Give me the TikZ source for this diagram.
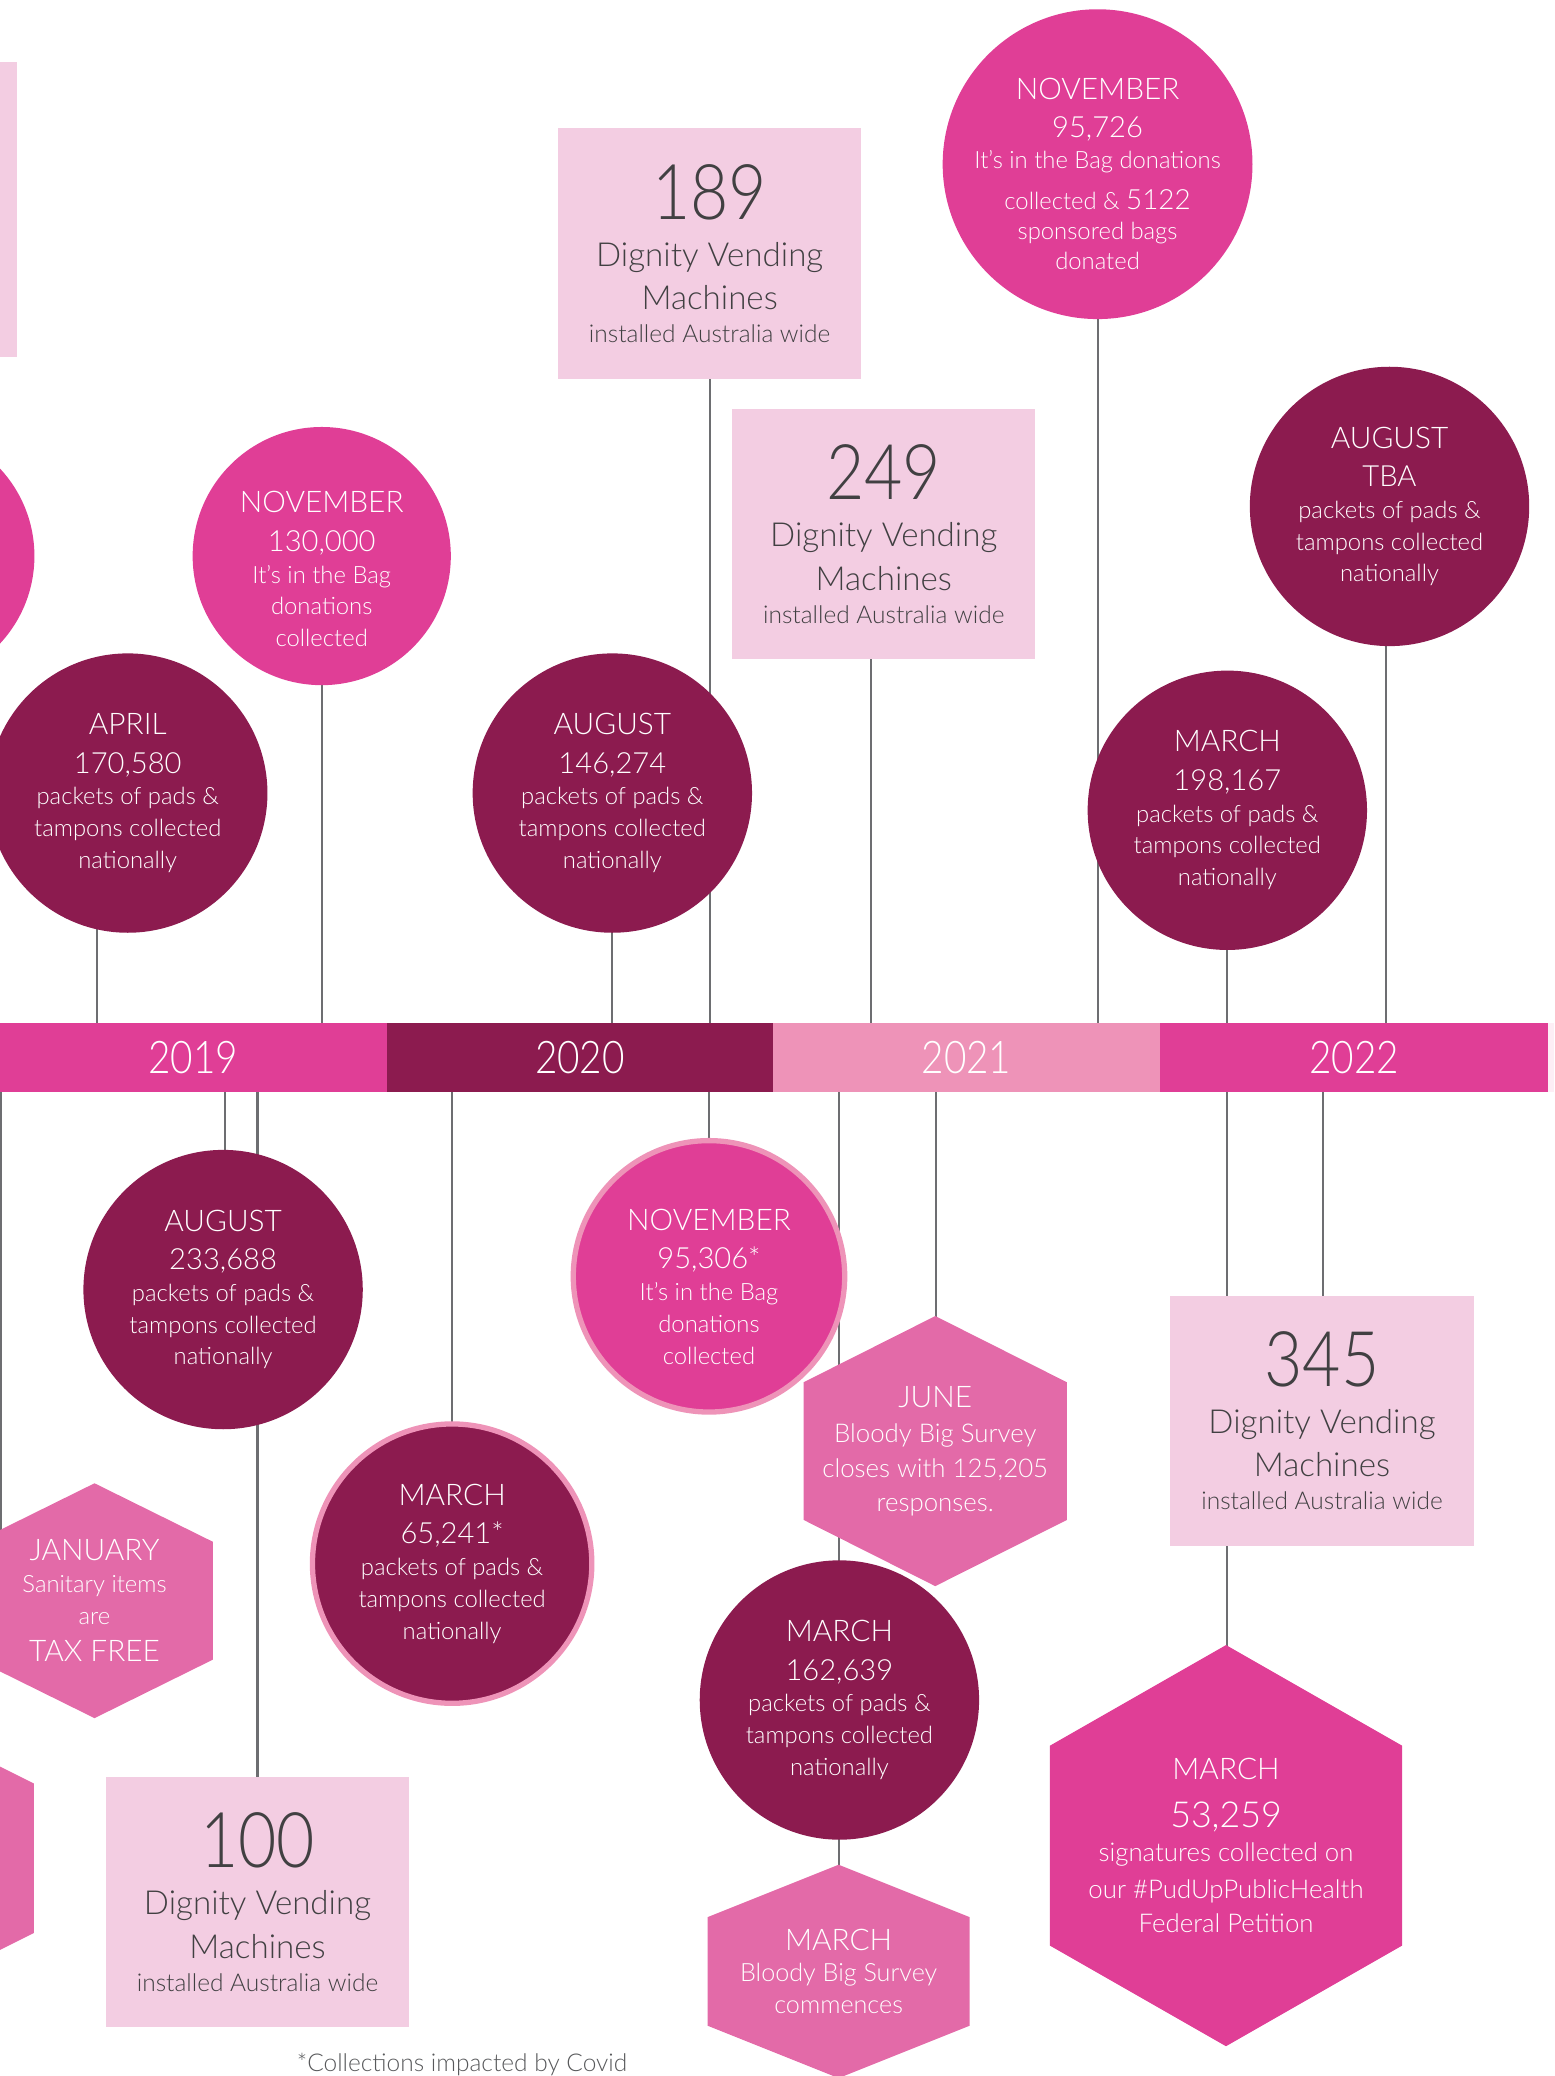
\documentclass[tikz,border=0pt]{standalone}
\usepackage{fontspec}
\setmainfont{Lato}[UprightFont=* Light]
\newfontfamily\bignum{Lato}[UprightFont=* Light, FakeStretch=0.86]
\definecolor{mag}{HTML}{E03E96}
\definecolor{dark}{HTML}{8C1B4F}
\definecolor{lpink}{HTML}{EE93B8}
\definecolor{hexp}{HTML}{E36AA8}
\definecolor{pale}{HTML}{F3CDE2}
\definecolor{txtg}{HTML}{414042}
\definecolor{lineg}{HTML}{6D6E71}
\definecolor{footg}{HTML}{58595B}
\definecolor{fade}{HTML}{FDEEF5}
\pgfdeclarelayer{bg}
\pgfsetlayers{bg,main}
\tikzset{
  base/.style={inner sep=0pt, outer sep=0pt, align=center, text=white, font=\fontsize{18}{24}\selectfont},
  circ/.style={base, circle, minimum size=211pt, inner sep=-40pt},
  dkc/.style={circ, fill=dark},
  mgc/.style={circ, fill=mag},
  vbox/.style={base, rectangle, fill=pale, text=txtg, minimum width=229pt, minimum height=189pt, font=\fontsize{18.5}{25}\selectfont},
  hext/.style={base, font=\fontsize{19.5}{26}\selectfont},
  yr/.style={base, rectangle, minimum width=292pt, minimum height=52pt, font=\bignum\fontsize{34}{34}\selectfont},
  conn/.style={draw=lineg, line width=1.6pt},
  foot/.style={inner sep=0pt, text=footg, font=\fontsize{18.5}{20}\selectfont, anchor=base}
}
\newcommand\mon[1]{{\fontsize{22.5}{24}\selectfont #1}}
\newcommand\cnum[1]{{\fontsize{22}{24}\selectfont #1}}
\newcommand\bnum[1]{{\bignum\fontsize{58}{58}\selectfont #1}}
\newcommand\dvl[1]{{\fontsize{25}{25}\selectfont #1}}
\newcommand\myhex[5]{\fill[#5, shift={(#1)}] (0,-#4) -- (#2,-#3) -- (#2,#3) -- (0,#4) -- (-#2,#3) -- (-#2,-#3) -- cycle;}
\begin{document}
\begin{tikzpicture}[x=1pt,y=-1pt]
\useasboundingbox (0,0) rectangle (1174,1568);
\clip (0,0) rectangle (1174,1568);

% ---------- timeline bar ----------
\node[yr, fill=mag] (y19) at (146,799) {2019};
\node[yr, fill=dark] (y20) at (438,799) {2020};
\node[yr, fill=lpink] (y21) at (730,799) {2021};
\node[yr, fill=mag, minimum width=293.5pt] (y22) at (1022.75,799) {2022};
\fill[fade] (1169.5,773) rectangle (1174,825);

% ---------- above the bar ----------
\fill[pale] (0,47) rectangle (13,270);
\node[mgc, minimum size=194pt] (lcirc) at (-71,420) {};
\node[mgc, minimum size=195pt] (nov19) at (243,420)
  {\rule{0pt}{36pt}\mon{NOVEMBER}\\[5pt]\cnum{130,000}\\It’s in the Bag\\donations\\collected};
\node[dkc] (apr19) at (96.5,599)
  {\mon{APRIL}\\[5pt]\cnum{170,580}\\packets of pads \&\\tampons collected\\nationally};
\node[dkc] (aug20) at (462.5,599)
  {\mon{AUGUST}\\[5pt]\cnum{146,274}\\packets of pads \&\\tampons collected\\nationally};
\node[vbox] (b189) at (536,191.5)
  {\bnum{189}\\[10.5pt]\dvl{Dignity Vending}\\[8pt]\dvl{Machines}\\installed Australia wide};
\node[vbox] (b249) at (667.5,403.5)
  {\bnum{249}\\[10.5pt]\dvl{Dignity Vending}\\[8pt]\dvl{Machines}\\installed Australia wide};
\node[mgc, minimum size=234pt, font=\fontsize{18}{23}\selectfont] (nov21) at (829,124)
  {\rule{0pt}{31pt}\mon{NOVEMBER}\\[6pt]\cnum{95,726}\\It’s in the Bag donations\\[8pt]collected \& {\fontsize{21}{21}\selectfont 5122}\\sponsored bags\\donated};
\node[dkc] (aug22) at (1049.5,382.5)
  {\mon{AUGUST}\\[5pt]\cnum{TBA}\\packets of pads \&\\tampons collected\\nationally};
\node[dkc] (mar22) at (927,612)
  {\mon{MARCH}\\[5pt]\cnum{198,167}\\packets of pads \&\\tampons collected\\nationally};

% ---------- below the bar ----------
\node[dkc] (aug19) at (168.5,974)
  {\mon{AUGUST}\\[5pt]\cnum{233,688}\\packets of pads \&\\tampons collected\\nationally};
\myhex{71.4,1209}{89.4}{44.5}{88.7}{hexp}
\node[hext, font=\fontsize{18}{24}\selectfont] (jan19) at (71.4,1209)
  {\mon{JANUARY}\\Sanitary items\\are\\[4pt]\mon{TAX FREE}};
\myhex{-74.5,1403.5}{100}{56.5}{106.5}{hexp}
\node[dkc, draw=lpink, line width=4pt] (mar20) at (341.5,1181)
  {\mon{MARCH}\\[5pt]\cnum{65,241*}\\packets of pads \&\\tampons collected\\nationally};
\node[vbox] (b100) at (194.5,1436.5)
  {\bnum{100}\\[10.5pt]\dvl{Dignity Vending}\\[8pt]\dvl{Machines}\\installed Australia wide};
\node[mgc, draw=lpink, line width=4pt, minimum size=205pt] (nov20) at (535.5,964)
  {\rule{0pt}{32pt}\mon{NOVEMBER}\\[5pt]\cnum{95,306*}\\It’s in the Bag\\donations\\collected};
\myhex{706.4,1096}{99.4}{52}{102}{hexp}
\node[hext] (jun21) at (706.4,1096)
  {\mon{JUNE}\\[1pt]Bloody Big Survey\\closes with 125,205\\responses.};
\node[dkc] (mar21) at (634,1284)
  {\mon{MARCH}\\[5pt]\cnum{162,639}\\packets of pads \&\\tampons collected\\nationally};
\myhex{633.4,1489}{99}{41}{80.6}{hexp}
\node[hext, font=\fontsize{19}{24}\selectfont] (bbs21) at (633.4,1489)
  {\mon{MARCH}\\Bloody Big Survey\\commences};
\node[vbox] (b345) at (998.5,1073)
  {\bnum{345}\\[10.5pt]\dvl{Dignity Vending}\\[8pt]\dvl{Machines}\\installed Australia wide};
\myhex{926,1394}{133}{75.5}{151.5}{mag}
\node[hext] (pet22) at (926,1394)
  {\mon{MARCH}\\[10pt]{\fontsize{27}{27}\selectfont 53,259}\\signatures collected on\\[1.5pt]our \#PudUpPublicHealth\\Federal Petition};
\node[foot] (note) at (349,1564.5) {*Collections impacted by Covid};

% ---------- connectors ----------
\begin{pgfonlayer}{bg}
\coordinate (xa) at (73,0);
\coordinate (xb) at (243,0);
\coordinate (xc) at (462.5,0);
\coordinate (xd) at (536,0);
\coordinate (xe) at (658,0);
\coordinate (xf) at (829,0);
\coordinate (xg) at (927,0);
\coordinate (xh) at (1047,0);
\coordinate (xi) at (0.8,0);
\coordinate (xj) at (170,0);
\coordinate (xk) at (194.5,0);
\coordinate (xl) at (341.5,0);
\coordinate (xm) at (535.5,0);
\coordinate (xn) at (634,0);
\coordinate (xo) at (707,0);
\coordinate (xp) at (927,0);
\coordinate (xq) at (999,0);
\draw[conn] (y19.north -| xa) -- (apr19.center -| xa);
\draw[conn] (y19.north -| xb) -- (nov19.center -| xb);
\draw[conn] (y20.north -| xc) -- (aug20.center -| xc);
\draw[conn] (y20.north -| xd) -- (b189.center -| xd);
\draw[conn] (y21.north -| xe) -- (b249.center -| xe);
\draw[conn] (y21.north -| xf) -- (nov21.center -| xf);
\draw[conn] (y22.north -| xg) -- (mar22.center -| xg);
\draw[conn] (y22.north -| xh) -- (aug22.center -| xh);
\draw[conn] (y19.south -| xi) -- (jan19.center -| xi);
\draw[conn] (y19.south -| xj) -- (aug19.center -| xj);
\draw[conn] (y19.south -| xk) -- (b100.center -| xk);
\draw[conn] (y20.south -| xl) -- (mar20.center -| xl);
\draw[conn] (y20.south -| xm) -- (nov20.center -| xm);
\draw[conn] (y21.south -| xn) -- (bbs21.center -| xn);
\draw[conn] (y21.south -| xo) -- (jun21.center -| xo);
\draw[conn] (y22.south -| xp) -- (pet22.center -| xp);
\draw[conn] (y22.south -| xq) -- (b345.center -| xq);
\end{pgfonlayer}
\end{tikzpicture}
\end{document}
